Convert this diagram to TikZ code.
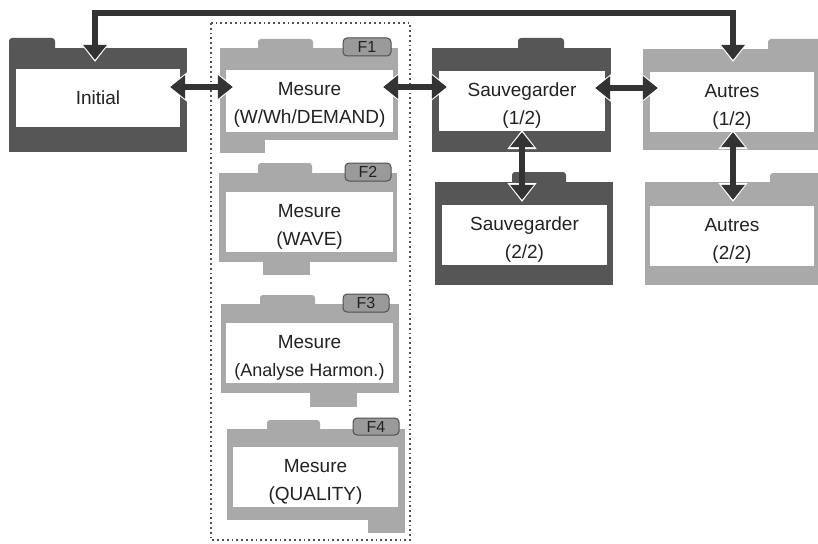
\documentclass[tikz,border=0pt]{standalone}
\usepackage{fontspec}
\setmainfont{Liberation Sans}
\usetikzlibrary{arrows.meta}
\definecolor{darkf}{HTML}{565656}
\definecolor{lightf}{HTML}{A9A9A9}
\definecolor{ac}{HTML}{333333}
\definecolor{txt}{HTML}{222222}
\definecolor{bdf}{HTML}{9A9A9A}
\definecolor{bdc}{HTML}{505050}
% two-line label in a panel of fixed size: first baseline 25pt below the top
\newcommand\twolines[4]{\parbox[c][#2][t]{#1}{\centering\rule{0pt}{25pt}#3\\#4}}
\tikzset{
  panel/.style={fill=white, inner sep=0pt, align=center, text=txt,
    font=\fontsize{19}{28}\selectfont},
  badge/.style={draw=bdc, fill=bdf, line width=1pt, rounded corners=4pt,
    inner sep=0pt, text=txt, font=\fontsize{16}{16}\selectfont},
  tab/.style={rounded corners=3pt},
  bigtip/.tip={Triangle[width=23pt,length=15pt]},
  halotip/.tip={Triangle[width=28pt,length=19pt]},
  halo/.style={draw=white, line width=6pt, {halotip}-{halotip},
    shorten <=-2.2pt, shorten >=-2.2pt},
  conn/.style={draw=ac, line width=6pt, {bigtip}-{bigtip}, line join=miter,
    preaction={halo}},
}
\begin{document}
\begin{tikzpicture}[x=1pt,y=-1pt]
\useasboundingbox[fill=white] (0,0) rectangle (818,543);

% Initial folder
\fill[darkf,tab] (9,38) rectangle (55,52);
\fill[darkf] (9,48) rectangle (187,152);
\node[panel, minimum width=164pt, minimum height=58pt] (init) at (98,98) {Initial};

% Mesure group frame
\draw[bdc, line width=1.8pt, dash pattern=on 1.8pt off 3pt] (211,23) rectangle (410,540);

% Mesure F1
\fill[lightf,tab] (258,39) rectangle (313,52);
\fill[lightf] (220,48) rectangle (398,140);
\fill[lightf] (220,138) rectangle (265,153);
\node[panel] (m1) at (309.5,101) {\twolines{167pt}{62pt}{Mesure}{(W/Wh/DEMAND)}};
\node[badge, minimum width=48pt, minimum height=18pt] (f1) at (367,47) {F1};

% Mesure F2
\fill[lightf,tab] (258,163) rectangle (312,177);
\fill[lightf] (219,173) rectangle (397,262);
\fill[lightf] (263,260) rectangle (310,275);
\node[panel] (m2) at (309.5,222) {\twolines{167pt}{60pt}{Mesure}{(WAVE)}};
\node[badge, minimum width=46pt, minimum height=18pt] (f2) at (368,172) {F2};

% Mesure F3
\fill[lightf,tab] (260,295) rectangle (315,308);
\fill[lightf] (221,304) rectangle (399,393);
\fill[lightf] (310,391) rectangle (357,407);
\node[panel] (m3) at (309.5,353) {\twolines{167pt}{60pt}{Mesure}{{\fontsize{18}{20}\selectfont(Analyse Harmon.)}}};
\node[badge, minimum width=46pt, minimum height=18pt] (f3) at (366,303) {F3};

% Mesure F4
\fill[lightf,tab] (267,420) rectangle (320,433);
\fill[lightf] (227,429) rectangle (405,520);
\fill[lightf] (368,518) rectangle (405,533);
\node[panel] (m4) at (315.5,477) {\twolines{165pt}{60pt}{Mesure}{(QUALITY)}};
\node[badge, minimum width=46pt, minimum height=17pt] (f4) at (376,426.5) {F4};

% Sauvegarder folders
\fill[darkf,tab] (518,38) rectangle (564,52);
\fill[darkf] (432,48) rectangle (611,152);
\node[panel] (s1) at (522,101) {\twolines{166pt}{60pt}{Sauvegarder}{(1/2)}};
\fill[darkf,tab] (512,172) rectangle (566,186);
\fill[darkf] (435,182) rectangle (613,285);
\node[panel] (s2) at (524.5,235) {\twolines{165pt}{60pt}{Sauvegarder}{(2/2)}};

% Autres folders
\fill[lightf,tab] (768,39) rectangle (830,53);
\fill[lightf] (643,49) rectangle (830,150);
\node[panel] (a1) at (732,102) {\twolines{164pt}{60pt}{Autres}{(1/2)}};
\fill[lightf,tab] (770,173) rectangle (830,186);
\fill[lightf] (645,182) rectangle (830,285);
\node[panel] (a2) at (732,236) {\twolines{164pt}{60pt}{Autres}{(2/2)}};

% Connectors
\draw[conn] ([shift={(-10,-11)}]init.east) -- ([shift={(7,-14)}]m1.west);
\draw[conn] ([shift={(-10,-14)}]m1.east) -- ([shift={(8,-14)}]s1.west);
\draw[conn] ([shift={(-10,-13)}]s1.east) -- ([shift={(8,-14)}]a1.west);
\draw[conn] ([shift={(0,1)}]s1.south) -- ([shift={(-2.5,-5)}]s2.north);
\draw[conn] ([shift={(1,0)}]a1.south) -- ([shift={(1,-6)}]a2.north);
\draw[conn] ([shift={(-3,-9)}]init.north) |- ([shift={(1,-59)}]a1.north) -- ([shift={(1,-12)}]a1.north);
\end{tikzpicture}
\end{document}
